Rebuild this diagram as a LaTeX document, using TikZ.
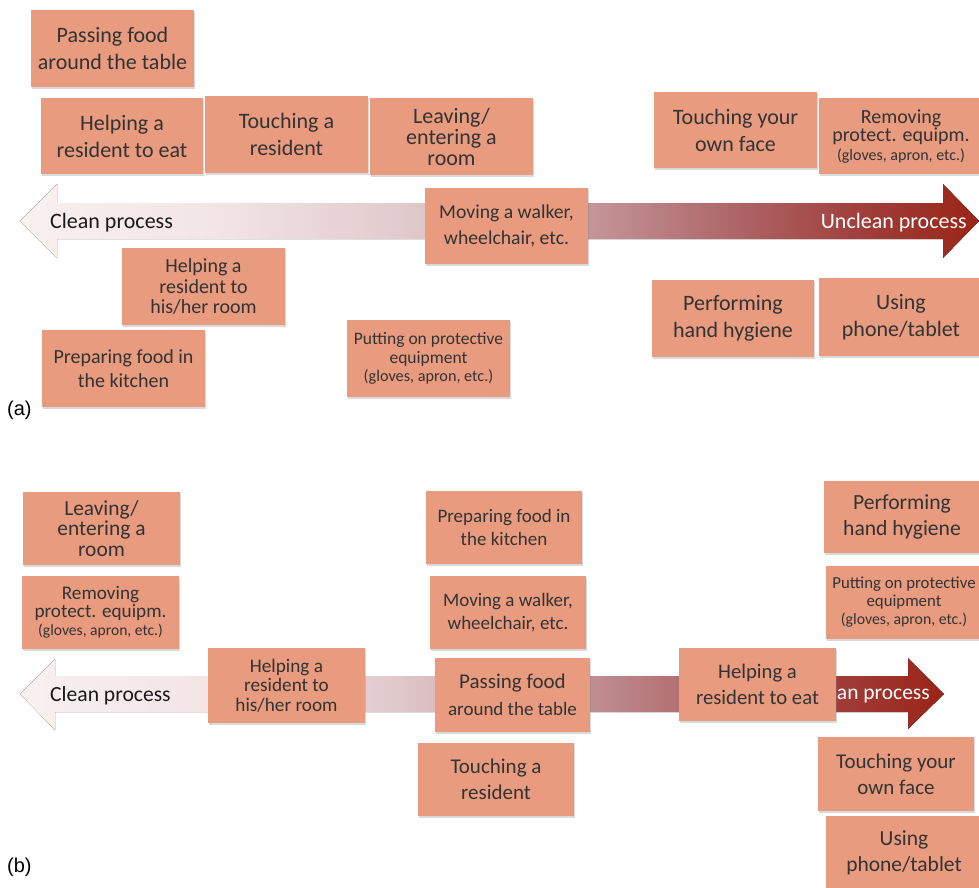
\documentclass[tikz,border=0pt]{standalone}
\usepackage{fontspec}
\setmainfont{Carlito}
\newfontfamily\labfont{Liberation Sans}
\usetikzlibrary{shadows}
\definecolor{boxc}{HTML}{E89B7E}
\definecolor{txtc}{HTML}{333333}
\definecolor{sc0}{HTML}{F9F0F0}
\definecolor{sc1}{HTML}{F3E5E6}
\definecolor{sc2}{HTML}{E1CACD}
\definecolor{sc3}{HTML}{C29497}
\definecolor{sc4}{HTML}{AD6466}
\definecolor{sc5}{HTML}{A03E3A}
\definecolor{sc6}{HTML}{9A2417}
\pgfdeclarehorizontalshading{procshade}{100bp}{color(0bp)=(sc0); color(25bp)=(sc0); color(35bp)=(sc1); color(45bp)=(sc2); color(55bp)=(sc3); color(62.5bp)=(sc4); color(69bp)=(sc5); color(75bp)=(sc6); color(100bp)=(sc6)}
\tikzset{
  card/.style={fill=boxc, draw=none, text=txtc, align=center, inner sep=0pt,
    drop shadow={opacity=0.3, shadow xshift=1pt, shadow yshift=-1.8pt}},
  fbig/.style={font=\fontsize{22}{27}\selectfont},
  flab/.style={inner sep=0pt, font=\fontsize{22}{26}\selectfont},
}
\begin{document}
\begin{tikzpicture}[x=1pt, y=-1pt]
\useasboundingbox (0,0) rectangle (979,887);
% ---------------- panel (a) ----------------
\fill[shading=procshade] (20,221) -- (57,184) -- (57,203) -- (943,203) -- (943,184) -- (979,221) -- (943,258) -- (943,239) -- (57,239) -- (57,258) -- cycle;
\node[flab, anchor=west, text=black!90] (aclean) at (50,223) {Clean process};
\node[flab, anchor=east, text=white] (aunclean) at (967,223) {Unclean process};

\node[card, fbig, minimum width=163, minimum height=77] (a1) at (112.5,48.5) {Passing food\\around the table};
\node[card, fbig, minimum width=162, minimum height=76] (a2) at (122,136) {Helping a\\resident to eat};
\node[card, fbig, minimum width=163, minimum height=77] (a3) at (286.5,134.5) {Touching a\\resident};
\node[card, font=\fontsize{22}{21}\selectfont, minimum width=163, minimum height=77] (a4) at (451.5,136.5) {Leaving/\\entering a\\room};
\node[card, font=\fontsize{19.7}{25.5}\selectfont, minimum width=163, minimum height=76] (a5) at (506.5,226) {Moving a walker,\\wheelchair, etc.};
\node[card, fbig, minimum width=163, minimum height=76] (a6) at (735.5,130) {Touching your\\own face};
\node[card, font=\fontsize{20}{18.5}\selectfont, minimum width=164, minimum height=76] (a7) at (901,136) {Removing\\protect. equipm.\\{\fontsize{16}{18}\selectfont (gloves, apron, etc.)}};
\node[card, font=\fontsize{20}{20.5}\selectfont, minimum width=163, minimum height=77] (a8) at (203.5,286.5) {Helping a\\resident to\\his/her room};
\node[card, font=\fontsize{20}{23.5}\selectfont, minimum width=163, minimum height=77] (a9) at (123.5,368.5) {Preparing food in\\the kitchen};
\node[card, font=\fontsize{17.5}{18.5}\selectfont, minimum width=163, minimum height=77] (a10) at (428.5,358.5) {Putting on protective\\equipment\\{\fontsize{16.2}{18}\selectfont (gloves, apron, etc.)}};
\node[card, fbig, minimum width=162, minimum height=77] (a11) at (733,318.5) {Performing\\hand hygiene};
\node[card, fbig, minimum width=164, minimum height=78] (a12) at (901,317) {Using\\phone/tablet};
\node[anchor=west, inner sep=0pt, font=\labfont\fontsize{20}{24}\selectfont] (alab) at (7,410) {(a)};

% ---------------- panel (b) ----------------
\fill[shading=procshade] (20,694) -- (55,659) -- (55,676) -- (908,676) -- (908,658) -- (944,694) -- (908,729) -- (908,712) -- (55,712) -- (55,730) -- cycle;
\node[flab, anchor=west, text=black!90, font=\fontsize{21.6}{26}\selectfont] (bclean) at (50,696) {Clean process};
\node[flab, anchor=east, text=white, font=\fontsize{21.5}{26}\selectfont] (bunclean) at (930,696) {an process};

\node[card, font=\fontsize{21.4}{20.5}\selectfont, minimum width=157, minimum height=73] (b1) at (101.5,528.5) {Leaving/\\entering a\\room};
\node[card, font=\fontsize{19.2}{18}\selectfont, minimum width=157, minimum height=73] (b2) at (100.5,612.5) {Removing\\protect. equipm.\\{\fontsize{15.6}{17}\selectfont (gloves, apron, etc.)}};
\node[card, font=\fontsize{19.2}{19.5}\selectfont, minimum width=157, minimum height=75] (b3) at (286.5,685.5) {Helping a\\resident to\\his/her room};
\node[card, font=\fontsize{19}{23}\selectfont, minimum width=156, minimum height=73] (b4) at (504,527.5) {Preparing food in\\the kitchen};
\node[card, font=\fontsize{19}{23}\selectfont, minimum width=156, minimum height=73] (b5) at (508,612.5) {Moving a walker,\\wheelchair, etc.};
\node[card, font=\fontsize{21}{26.5}\selectfont, minimum width=155, minimum height=74] (b6) at (512.5,695) {Passing food\\{\fontsize{19}{23}\selectfont around the table}};
\node[card, font=\fontsize{21}{26}\selectfont, minimum width=156, minimum height=73] (b7) at (496,779.5) {Touching a\\resident};
\node[card, font=\fontsize{20.7}{26}\selectfont, minimum width=157, minimum height=73] (b8) at (757.5,684.5) {Helping a\\resident to eat};
\node[card, font=\fontsize{21.6}{26}\selectfont, minimum width=156, minimum height=72] (b9) at (902,517) {Performing\\hand hygiene};
\node[card, font=\fontsize{16.8}{18}\selectfont, minimum width=156, minimum height=73] (b10) at (904,602.5) {Putting on protective\\equipment\\{\fontsize{15.8}{18}\selectfont (gloves, apron, etc.)}};
\node[card, font=\fontsize{21}{26}\selectfont, minimum width=156, minimum height=74] (b11) at (896,774) {Touching your\\own face};
\node[card, font=\fontsize{21.5}{26}\selectfont, minimum width=156, minimum height=74] (b12) at (904,853) {Using\\phone/tablet};
\node[anchor=west, inner sep=0pt, font=\labfont\fontsize{20}{24}\selectfont] (blab) at (7,867) {(b)};
\end{tikzpicture}
\end{document}
